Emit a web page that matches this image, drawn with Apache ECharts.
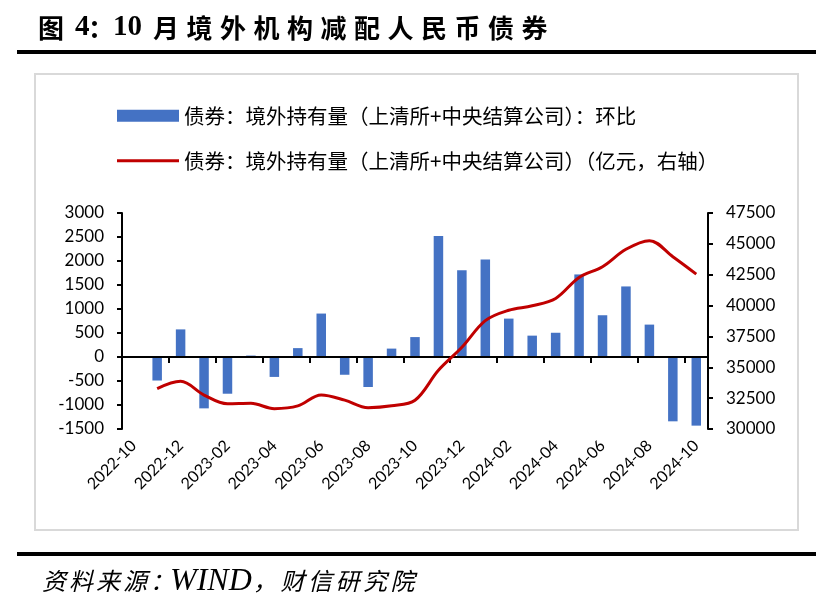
<!DOCTYPE html>
<html>
<head>
<meta charset="utf-8">
<script src="https://cdn.jsdelivr.net/npm/echarts@6/dist/echarts.min.js"></script>
<style>html,body{margin:0;padding:0;background:#fff;}#c{width:831px;height:612px;}</style>
</head>
<body>
<div id="c"></div>
<script>
// ---- data ----
var months = ['2022-10','2022-11','2022-12','2023-01','2023-02','2023-03','2023-04','2023-05','2023-06','2023-07','2023-08','2023-09','2023-10','2023-11','2023-12','2024-01','2024-02','2024-03','2024-04','2024-05','2024-06','2024-07','2024-08','2024-09','2024-10'];
var momChange = [null, -490, 575, -1070, -765, 30, -415, 185, 905, -370, -625, 175, 415, 2520, 1805, 2030, 800, 445, 505, 1720, 870, 1470, 675, -1340, -1430];
var holdings = [null, 33270, 33860, 32750, 32040, 32080, 31650, 31870, 32760, 32340, 31730, 31880, 32330, 34760, 36620, 38780, 39620, 39980, 40580, 42280, 43150, 44560, 45260, 43960, 42550];
var barName = '债券：境外持有量（上清所+中央结算公司）：环比';
var lineName = '债券：境外持有量（上清所+中央结算公司）（亿元，右轴）';
var titleHead = [['图', 38, 'cjk'], ['4', 75, 'latin'], ['：', 88, 'cjk'], ['10', 113, 'latin']];
var titleTail = '月境外机构减配人民币债券';
var sourceA = '资料来源：';
var sourceB = 'WIND';
var sourceC = '，财信研究院';

var CJK = '"Noto Sans CJK SC"';
var NUM = 'Lato';

var graphics = [];
// chart frame
graphics.push({type:'rect', shape:{x:35, y:74, width:763, height:456}, style:{fill:'none', stroke:'#D9D9D9', lineWidth:2}, silent:true});
// rules
graphics.push({type:'rect', shape:{x:17, y:50, width:799, height:4}, style:{fill:'#000'}, silent:true});
graphics.push({type:'rect', shape:{x:17, y:552, width:799, height:4}, style:{fill:'#000'}, silent:true});
// title
titleHead.forEach(function(p){
  graphics.push({type:'text', style:{text:p[0], x:p[1], y:28, font: p[2]==='cjk' ? 'bold 26px ' + CJK : 'bold 29px "Liberation Serif"', fill:'#000', verticalAlign:'middle', align:'left'}});
});
titleTail.split('').forEach(function(ch, i){
  graphics.push({type:'text', style:{text:ch, x:153 + i*33.5, y:28, font:'bold 26px ' + CJK, fill:'#000', verticalAlign:'middle', align:'left'}});
});
// source
sourceA.split('').forEach(function(ch, i){
  graphics.push({type:'text', style:{text:ch, x:42 + i*27, y:581, font:'italic 24px ' + CJK, fill:'#000', verticalAlign:'middle', align:'left'}});
});
graphics.push({type:'text', style:{text:sourceB, x:170, y:582, font:'italic 32px "Liberation Serif"', fill:'#000', verticalAlign:'middle', align:'left'}});
sourceC.split('').forEach(function(ch, i){
  graphics.push({type:'text', style:{text:ch, x:253 + i*27.5, y:581, font:'italic 24px ' + CJK, fill:'#000', verticalAlign:'middle', align:'left'}});
});

var chart = echarts.init(document.getElementById('c'), null, {renderer:'canvas'});
chart.setOption({
  animation:false,
  backgroundColor:'#fff',
  graphic: graphics,
  legend:{
    orient:'vertical', left:112, top:100.5, itemWidth:62, itemHeight:12, itemGap:24.5,
    symbolKeepAspect:true,
    textStyle:{fontFamily:CJK, fontSize:20.5, lineHeight:20, color:'#000'},
    data:[{name:barName, icon:'rect'}, {name:lineName, icon:'path://M0,0L62,0L62,3L0,3Z'}]
  },
  grid:{left:122, right:123, top:213, bottom:183, containLabel:false},
  xAxis:[
    {type:'category', data:months, position:'bottom', boundaryGap:true,
     axisLine:{show:false, onZero:false}, axisTick:{show:false},
     axisLabel:{interval:1, rotate:45, margin:14, fontFamily:NUM, fontSize:16, color:'#000'}},
    {type:'category', data:months, position:'bottom', boundaryGap:true, z:3,
     axisLine:{show:true, onZero:true, onZeroAxisIndex:0, lineStyle:{color:'#000', width:2}},
     axisTick:{show:true, interval:1, length:6, lineStyle:{color:'#000', width:2}},
     axisLabel:{show:false}, splitLine:{show:false}}
  ],
  yAxis:[
    {type:'value', position:'left', min:-1500, max:3000, interval:500,
     axisLine:{show:true, onZero:false, lineStyle:{color:'#000', width:2}},
     axisTick:{show:true, length:5, lineStyle:{color:'#000', width:2}},
     axisLabel:{margin:18, fontFamily:NUM, fontSize:17, color:'#000', formatter:function(v){return String(v);}},
     splitLine:{show:false}},
    {type:'value', position:'right', min:30000, max:47500, interval:2500,
     axisLine:{show:true, onZero:false, lineStyle:{color:'#000', width:2}},
     axisTick:{show:true, length:5, lineStyle:{color:'#000', width:2}},
     axisLabel:{margin:18, fontFamily:NUM, fontSize:17, color:'#000', formatter:function(v){return String(v);}},
     splitLine:{show:false}}
  ],
  series:[
    {name:barName, type:'bar', xAxisIndex:0, yAxisIndex:0, data:momChange, barWidth:9.5,
     itemStyle:{color:'#4472C4'}, z:2},
    {name:lineName, type:'line', xAxisIndex:0, yAxisIndex:1, data:holdings, smooth:0.35,
     symbol:'none', showSymbol:false, connectNulls:false, lineStyle:{color:'#C00000', width:3}, itemStyle:{color:'#C00000'}, z:4}
  ]
});
</script>
</body>
</html>
